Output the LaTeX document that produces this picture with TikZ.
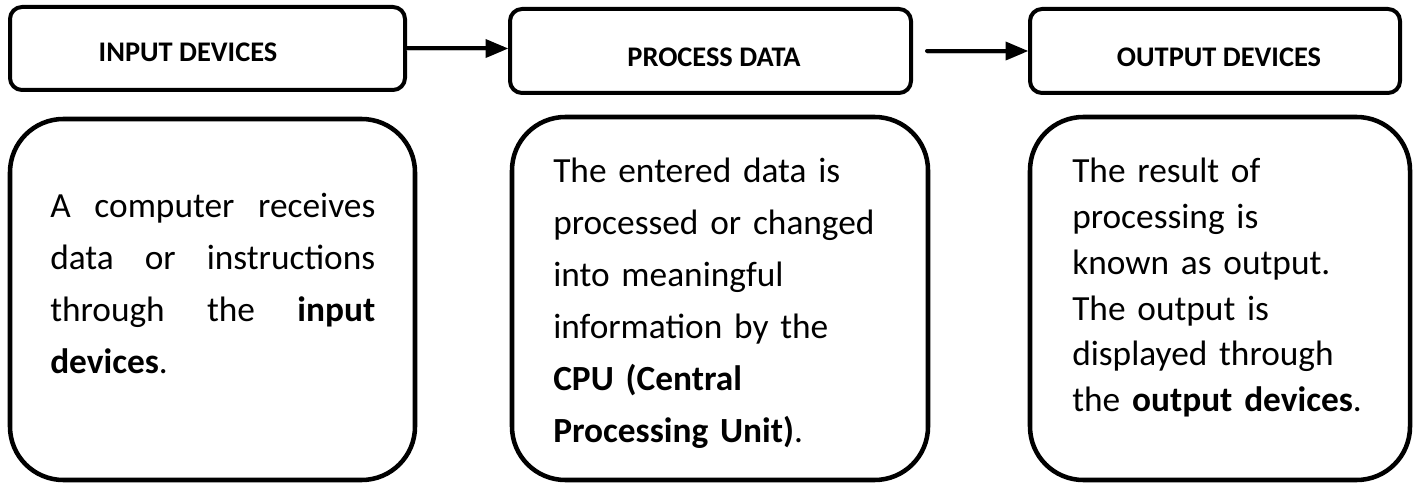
\documentclass[tikz,border=0pt]{standalone}
\usepackage{fontspec}
\setmainfont{Carlito}
\usetikzlibrary{arrows,fit}

\begin{document}
\begin{tikzpicture}[line cap=round,line join=round,>=triangle 45,x=0.75pt,y=-0.75pt,
		hdr/.style={draw,line width=3pt,rounded corners=9pt,inner sep=0pt},
		body/.style={draw,line width=3.4pt,rounded corners=40pt,inner sep=0pt},
		hdrtext/.style={anchor=base,inner sep=0pt,font=\fontsize{21.3}{25}\selectfont\bfseries},
		bodytext/.style={anchor=base west,inner sep=0pt,font=\fontsize{26.5}{39}\selectfont},
		flow/.style={->,line width=3pt,preaction={draw=black!25,transform canvas={yshift=-1.5pt}}}]
	\useasboundingbox (0,0) rectangle (1416,484);
	\node [hdr,fit={(10,7) (405,90)}] (in) {};
	\node [hdr,fit={(510,9) (911,93)}] (proc) {};
	\node [hdr,fit={(1030,9) (1400,93)}] (out) {};
	\node [hdrtext] (inlbl) at (188,62) {INPUT DEVICES};
	\node [hdrtext] (proclbl) at (714,67) {PROCESS DATA};
	\node [hdrtext] (outlbl) at (1219,67) {OUTPUT DEVICES};
	\draw [flow] (in.east) -- (in.east -| proc.west);
	\draw [flow] ([xshift=10.5pt]proc.east) -- (proc.east -| out.west);
	\node [body,fit={(10,119) (415,480)}] (inbody) {};
	\node [body,fit={(512,117) (928,480)}] (procbody) {};
	\node [body,fit={(1030,117) (1410,480)}] (outbody) {};
	\node [bodytext,text width=243.75pt,align=justify] (intext) at (50,218)
		{A computer receives\linebreak data or instructions\linebreak through the \textbf{input}\linebreak \textbf{devices}.};
	\node [bodytext,text width=270pt,align=left] (proctext) at (553,183)
		{The entered data is\\processed or changed\\into meaningful\\information by the\\\textbf{CPU (Central}\\\textbf{Processing Unit)}.};
	\node [bodytext,text width=250pt,align=left,font=\fontsize{26.5}{34.3}\selectfont] (outtext) at (1072,183)
		{The result of\\processing is\\known as output.\\The output is\\displayed through\\the \textbf{output devices}.};
\end{tikzpicture}
\end{document}
